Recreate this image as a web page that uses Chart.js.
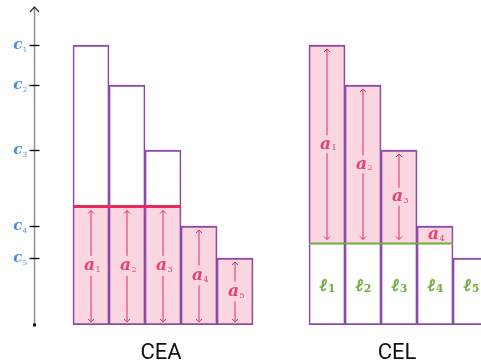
<!DOCTYPE html>
<html><head><meta charset="utf-8">
<script src="https://cdn.jsdelivr.net/npm/chart.js@4"></script>
<style>html,body{margin:0;padding:0;background:#fff}#wrap{width:481px;height:364px}</style>
</head><body><div id="wrap"><canvas id="c" width="481" height="364"></canvas></div>
<script>
// ---- data ----
const groups = ['CEA', 'CEL'];
const heights = [280, 240, 175, 99, 67];      // c1..c5
const tickSubs = ['1', '2', '3', '4', '5'];     // c subscripts
const levelCEA = 118.5;                          // equal-award level
const levelCEL = 81.5;                           // equal-loss level
const aSubs = ['1', '2', '3', '4', '5'];
const lSubs = ['1', '2', '3', '4', '5'];

// ---- layout constants ----
const celStart = 6.5556;
const PINK = '#f9d6e0', PURPLE = '#8b4ba6', RED = '#ea2a5c', ALABEL = '#e6406f',
      GREEN = '#6fae3f', BLUE = '#4a8fd6';

const ceaX = heights.map((h, i) => i);
const celX = heights.map((h, i) => celStart + i);

const ceaPink = heights.map((h, i) => ({x: ceaX[i], y: [0, Math.min(h, levelCEA)]}));
const celPink = heights.map((h, i) => ({x: celX[i], y: [levelCEL, h]})).filter((d, i) => heights[i] > levelCEL);
const outlines = heights.map((h, i) => ({x: ceaX[i], y: [0, h]}))
  .concat(heights.map((h, i) => ({x: celX[i], y: [0, h]})));

const lastAboveA = heights.reduce((m, h, i) => h > levelCEA ? i : m, -1);
const lastAboveL = heights.reduce((m, h, i) => h > levelCEL ? i : m, -1);
const redLine = [{x: ceaX[0] - 0.5, y: levelCEA}, {x: ceaX[lastAboveA] + 0.5, y: levelCEA}];
const greenLine = [{x: celX[0] - 0.5, y: levelCEL}, {x: celX[lastAboveL] + 0.5, y: levelCEL}];

const MATH = '"DejaVu Serif", serif';

function drawSub(ctx, main, sub, cx, cy, mainSize, subSize, color, xh, subDrop, heavy) {
  ctx.save();
  ctx.fillStyle = color;
  ctx.strokeStyle = color;
  ctx.textBaseline = 'alphabetic';
  ctx.textAlign = 'left';
  ctx.font = 'bold italic ' + mainSize + 'px ' + MATH;
  const w1 = ctx.measureText(main).width;
  ctx.font = subSize + 'px ' + MATH;
  const w2 = ctx.measureText(sub).width;
  const x0 = cx - (w1 + w2) / 2;
  const base = cy + xh / 2;
  ctx.font = 'bold italic ' + mainSize + 'px ' + MATH;
  ctx.fillText(main, x0, base);
  if (heavy) { ctx.lineWidth = 0.7; ctx.strokeText(main, x0, base); }
  ctx.font = (heavy ? 'bold ' : '') + subSize + 'px ' + MATH;
  ctx.fillText(sub, x0 + w1 + 0.5, base + subDrop);
  ctx.restore();
}

function arrowLine(ctx, x, yTop, yBot, gapTop, gapBot) {
  ctx.save();
  ctx.strokeStyle = RED;
  ctx.lineWidth = 1;
  ctx.beginPath();
  ctx.moveTo(x, yTop); ctx.lineTo(x, gapTop);
  ctx.moveTo(x, gapBot); ctx.lineTo(x, yBot);
  ctx.moveTo(x - 3, yTop + 3); ctx.lineTo(x, yTop); ctx.lineTo(x + 3, yTop + 3);
  ctx.moveTo(x - 3, yBot - 3); ctx.lineTo(x, yBot); ctx.lineTo(x + 3, yBot - 3);
  ctx.stroke();
  ctx.restore();
}

const annot = {
  id: 'annot',
  afterDatasetsDraw(chart) {
    const ctx = chart.ctx, xs = chart.scales.x, ys = chart.scales.y;
    const ax = chart.chartArea.left - 0.5;
    const y0 = ys.getPixelForValue(0), yTopAxis = ys.getPixelForValue(ys.max) - 1;
    // axis
    ctx.save();
    ctx.strokeStyle = '#8a8a8a'; ctx.lineWidth = 1.4;
    ctx.beginPath(); ctx.moveTo(ax, y0); ctx.lineTo(ax, yTopAxis); ctx.stroke();
    ctx.strokeStyle = '#333'; ctx.lineWidth = 1.2;
    ctx.beginPath(); ctx.moveTo(ax - 4.5, yTopAxis + 5); ctx.lineTo(ax, yTopAxis); ctx.lineTo(ax + 4.5, yTopAxis + 5); ctx.stroke();
    ctx.fillStyle = '#111'; ctx.fillRect(ax - 1.5, y0 - 1.5, 3, 3);
    ctx.strokeStyle = '#111'; ctx.lineWidth = 1.4;
    heights.forEach((h, i) => {
      const py = Math.round(ys.getPixelForValue(h)) + 0.5;
      ctx.beginPath(); ctx.moveTo(ax - 5, py); ctx.lineTo(ax + 5, py); ctx.stroke();
      drawSub(ctx, 'c', tickSubs[i], 20, py - 0.5, 15, 7, BLUE, 7, 3);
    });
    ctx.restore();

    // CEA
    heights.forEach((h, i) => {
      const px = xs.getPixelForValue(ceaX[i]);
      const top = ys.getPixelForValue(Math.min(h, levelCEA));
      const mid = (top + y0) / 2;
      arrowLine(ctx, px, top + 4, y0 - 3, mid - 10, mid + 10);
      drawSub(ctx, 'a', aSubs[i], px + 1, mid, 17, 8, ALABEL, 9, 1.5);
    });
    // CEL
    const yl = ys.getPixelForValue(levelCEL);
    heights.forEach((h, i) => {
      const px = xs.getPixelForValue(celX[i]);
      if (h > levelCEL) {
        const top = ys.getPixelForValue(h);
        const mid = (top + yl) / 2;
        if (yl - top > 40) arrowLine(ctx, px, top + 4, yl - 4, mid - 9, mid + 9);
        drawSub(ctx, 'a', aSubs[i], px + 1, mid, 17, 8, ALABEL, 9, 1.5);
      }
      const lmid = (yl + y0) / 2;
      drawSub(ctx, '\u2113', lSubs[i], px, lmid + 2, 17, 11, GREEN, 9, 1.5, true);
    });
    // group labels
    ctx.save();
    ctx.fillStyle = '#111';
    ctx.font = '22px Roboto, sans-serif';
    ctx.textAlign = 'center'; ctx.textBaseline = 'alphabetic';
    const gx = [ceaX, celX];
    groups.forEach((g, k) => {
      const c = (gx[k][0] + gx[k][gx[k].length - 1]) / 2;
      ctx.fillText(g, xs.getPixelForValue(c) - 2, 359);
    });
    ctx.restore();
  }
};

new Chart(document.getElementById('c'), {
  type: 'bar',
  data: {
    datasets: [
      {type: 'bar', data: ceaPink, backgroundColor: PINK, borderWidth: 0, order: 2, grouped: false,
       barPercentage: 1, categoryPercentage: 1},
      {type: 'bar', data: celPink, backgroundColor: PINK, borderWidth: 0, order: 2, grouped: false,
       barPercentage: 1, categoryPercentage: 1},
      {type: 'bar', data: outlines, backgroundColor: 'rgba(0,0,0,0)', borderColor: PURPLE,
       borderWidth: {left: 1, right: 1, top: 1.5, bottom: 1.5}, borderSkipped: false,
       order: 1, grouped: false, barPercentage: 1, categoryPercentage: 1},
      {type: 'line', data: redLine, borderColor: RED, borderWidth: 3, pointRadius: 0, fill: false, order: 0},
      {type: 'line', data: greenLine, borderColor: GREEN, borderWidth: 2, pointRadius: 0, fill: false, order: 0}
    ]
  },
  options: {
    responsive: false,
    animation: false,
    layout: {padding: {left: 35, right: 0, top: 8, bottom: 39}},
    plugins: {legend: {display: false}, tooltip: {enabled: false}},
    scales: {
      x: {type: 'linear', min: -1.5556, max: 10.8333, display: false, offset: false},
      y: {type: 'linear', min: 0, max: 317, display: false}
    }
  },
  plugins: [annot]
});
</script>
</body></html>
